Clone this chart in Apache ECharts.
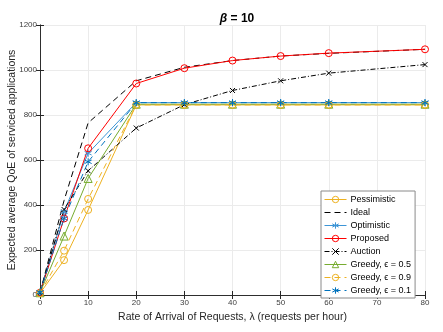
<!DOCTYPE html>
<html>
<head>
<meta charset="utf-8">
<script src="https://cdn.jsdelivr.net/npm/echarts@6/dist/echarts.min.js"></script>
<style>
  html, body { margin: 0; padding: 0; background: #fff; }
  #chart { width: 443px; height: 332px; }
</style>
</head>
<body>
<div id="chart"></div>
<script>
// arrival rate (requests per hour)
const lambdas = [0, 5, 10, 20, 30, 40, 50, 60, 80]

const pessimistic = [8, 155, 378, 845, 845, 845, 845, 845, 845]
const ideal = [10, 420, 765, 952, 1012, 1042, 1062, 1074, 1092]
const optimistic = [12, 370, 630, 855, 855, 855, 855, 855, 855]
const proposed = [10, 340, 652, 940, 1008, 1042, 1062, 1075, 1092]
const auction = [10, 380, 552, 742, 846, 909, 952, 986, 1024]
const greedy05 = [10, 262, 518, 848, 848, 848, 848, 848, 848]
const greedy09 = [8, 197, 427, 845, 845, 845, 845, 845, 845]
const greedy01 = [12, 340, 592, 855, 855, 855, 855, 855, 855]

const xTicks = [0, 10, 20, 30, 40, 50, 60, 70, 80]
const yTicks = [0, 200, 400, 600, 800, 1000, 1200]

const FONT = '"Liberation Sans", Arial, Helvetica, sans-serif'
const AXIS_COLOR = '#262626'
const GRID_COLOR = '#ebebeb'
const CLEAR = 'rgba(0,0,0,0)'

const STAR = 'path://M0,-10L0,10M-9,-5L9,5M-9,5L9,-5'
const CROSS = 'path://M-8,-8L8,8M-8,8L8,-8'

const pair = (ys) => lambdas.map((x, i) => [x, ys[i]])

const mkSeries = (name, ys, color, lineType, symbol, size) => ({
  name,
  type: 'line',
  data: pair(ys),
  symbol: symbol || 'circle',
  symbolSize: size || 7,
  showSymbol: !!symbol,
  color,
  lineStyle: { color, width: 1, type: lineType },
  itemStyle: { color: CLEAR, borderColor: color, borderWidth: 1 },
  emphasis: { disabled: true },
  animation: false
})

const series = [
  mkSeries('Pessimistic', pessimistic, '#EDB120', 'solid', 'circle', 7),
  mkSeries('Ideal', ideal, '#000000', [6, 4], null),
  mkSeries('Optimistic', optimistic, '#3D95D6', 'solid', STAR, 7),
  mkSeries('Proposed', proposed, '#FF0000', 'solid', 'circle', 7),
  mkSeries('Auction', auction, '#000000', [5, 2, 1, 2], CROSS, 5),
  mkSeries('Greedy, ϵ = 0.5', greedy05, '#77AC30', 'solid', 'triangle', 8),
  mkSeries('Greedy, ϵ = 0.9', greedy09, '#EDB120', [6, 4], 'circle', 7),
  mkSeries('Greedy, ϵ = 0.1', greedy01, '#0072BD', [6, 4], STAR, 7)
]

const boxAxisX = {
  type: 'value', min: 0, max: 80, interval: 10, position: 'top',
  axisLine: { show: true, lineStyle: { color: AXIS_COLOR, width: 0.8 } },
  axisTick: { show: true, inside: true, length: 4, lineStyle: { color: AXIS_COLOR } },
  axisLabel: { show: false }, splitLine: { show: false }
}
const boxAxisY = {
  type: 'value', min: 0, max: 1200, interval: 200, position: 'right',
  axisLine: { show: true, lineStyle: { color: AXIS_COLOR, width: 0.8 } },
  axisTick: { show: true, inside: true, length: 4, lineStyle: { color: AXIS_COLOR } },
  axisLabel: { show: false }, splitLine: { show: false }
}

const option = {
  backgroundColor: '#fff',
  animation: false,
  textStyle: { fontFamily: FONT },
  title: {
    text: '{b|β} = 10',
    left: 232, top: 8, textAlign: 'center',
    textStyle: {
      fontFamily: FONT, fontSize: 12, fontWeight: 'bold', color: '#000',
      rich: { b: { fontFamily: FONT, fontSize: 12, fontWeight: 'bold', fontStyle: 'italic', color: '#000' } }
    }
  },
  grid: { left: 40, right: 18, top: 25, bottom: 37, containLabel: false, outerBoundsMode: 'none' },
  legend: {
    orient: 'vertical',
    left: 321, top: 191,
    padding: [4, 4, 3, 3],
    itemGap: 4,
    itemWidth: 22,
    itemHeight: 8,
    backgroundColor: '#fff',
    borderColor: '#8a8a8a',
    borderWidth: 1,
    lineStyle: { width: 1 },
    itemStyle: { borderWidth: 1 },
    textStyle: { fontFamily: FONT, fontSize: 9, color: '#000', padding: [0, 0, 0, -1] },
    data: series.map(s => s.name === 'Ideal' ? { name: s.name, itemStyle: { opacity: 0 } } : s.name)
  },
  xAxis: [
    {
      type: 'value', min: 0, max: 80, interval: 10,
      name: 'Rate of Arrival of Requests, λ (requests per hour)',
      nameLocation: 'middle', nameGap: 17, nameMoveOverlap: false,
      nameTextStyle: { fontFamily: FONT, fontSize: 10.5, color: '#262626' },
      axisLine: { show: true, onZero: false, lineStyle: { color: AXIS_COLOR, width: 0.8 } },
      axisTick: { show: true, inside: true, length: 4, lineStyle: { color: AXIS_COLOR } },
      axisLabel: {
        fontFamily: FONT, fontSize: 8, color: '#404040', margin: 4,
        formatter: v => xTicks.includes(v) ? String(v) : ''
      },
      splitLine: { show: true, lineStyle: { color: GRID_COLOR, width: 1 } }
    },
    boxAxisX
  ],
  yAxis: [
    {
      type: 'value', min: 0, max: 1200, interval: 200,
      name: 'Expected average QoE of serviced applications',
      nameLocation: 'middle', nameGap: 22, nameMoveOverlap: false,
      nameTextStyle: { fontFamily: FONT, fontSize: 10.5, color: '#262626' },
      axisLine: { show: true, onZero: false, lineStyle: { color: AXIS_COLOR, width: 0.8 } },
      axisTick: { show: true, inside: true, length: 4, lineStyle: { color: AXIS_COLOR } },
      axisLabel: {
        fontFamily: FONT, fontSize: 8, color: '#404040', margin: 3,
        formatter: v => yTicks.includes(v) ? String(v) : ''
      },
      splitLine: { show: true, lineStyle: { color: GRID_COLOR, width: 1 } }
    },
    boxAxisY
  ],
  series
}

const myChart = echarts.init(document.getElementById('chart'), null, { renderer: 'canvas' })
myChart.setOption(option)
</script>
</body>
</html>
